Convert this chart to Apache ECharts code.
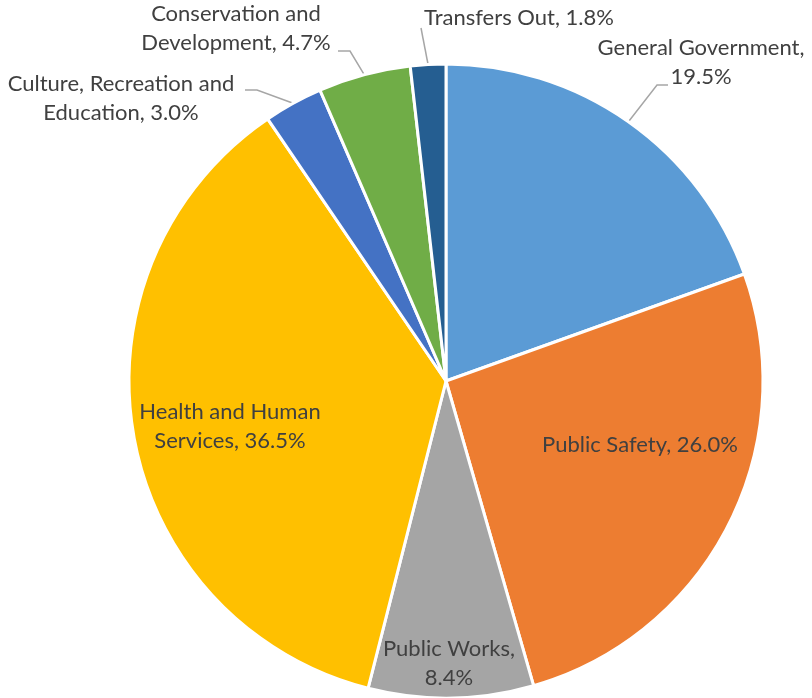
<!DOCTYPE html>
<html>
<head>
<meta charset="utf-8">
<script src="https://cdn.jsdelivr.net/npm/echarts@6/dist/echarts.min.js"></script>
<style>
  html, body { margin: 0; padding: 0; background: #fff; }
  #chart { width: 812px; height: 698px; }
</style>
</head>
<body>
<div id="chart"></div>
<script>
// Expenditure share by function (percent of total)
const categories = [
  'General Government',
  'Public Safety',
  'Public Works',
  'Health and Human\nServices',
  'Culture, Recreation and\nEducation',
  'Conservation and\nDevelopment',
  'Transfers Out'
];
const shares = [19.5, 26.0, 8.4, 36.5, 3.0, 4.7, 1.8];
const colors = ['#5B9BD5', '#ED7D31', '#A5A5A5', '#FFC000', '#4472C4', '#70AD47', '#255E91'];

// Label placement: inside or outside the slice, and whether the value wraps after the comma
const labelOutside = [true, false, false, false, true, true, true];
const wrapValue = [true, false, true, false, false, false, false];

// Label centres and leader-line elbows for each slice
const labelPos = [
  { x: 701, y: 62, line: [[657, 85], [668, 85]] },
  { x: 640, y: 445 },
  { x: 449, y: 663 },
  { x: 230, y: 426 },
  { x: 121, y: 98, line: [[257, 90], [245, 90]] },
  { x: 236, y: 28, line: [[350, 51], [338, 51]] },
  { x: 519, y: 18, line: [[421, 28], [421, 28]] }
];

const data = categories.map((name, i) => ({
  name: name,
  value: shares[i],
  itemStyle: { color: colors[i] },
  label: { position: labelOutside[i] ? 'outside' : 'inside' },
  labelLine: { show: labelOutside[i] }
}));

const chart = echarts.init(document.getElementById('chart'), null, { renderer: 'canvas' });
chart.setOption({
  animation: false,
  series: [{
    type: 'pie',
    center: [446, 381],
    radius: 317,
    startAngle: 90,
    clockwise: true,
    avoidLabelOverlap: false,
    data: data,
    itemStyle: { borderColor: '#ffffff', borderWidth: 3 },
    label: {
      show: true,
      color: '#404040',
      fontFamily: 'Lato, "Open Sans", sans-serif',
      fontSize: 22,
      lineHeight: 29,
      align: 'center',
      formatter: p => p.name + ',' + (wrapValue[p.dataIndex] ? '\n' : ' ') + p.value.toFixed(1) + '%'
    },
    labelLine: {
      show: true,
      lineStyle: { color: '#A6A6A6', width: 1.5 }
    },
    labelLayout: function (params) {
      const pos = labelPos[params.dataIndex];
      const out = { x: pos.x, y: pos.y, align: 'center', verticalAlign: 'middle' };
      if (pos.line && params.labelLinePoints) {
        out.labelLinePoints = [params.labelLinePoints[0], pos.line[0], pos.line[1]];
      }
      return out;
    }
  }]
});
</script>
</body>
</html>
